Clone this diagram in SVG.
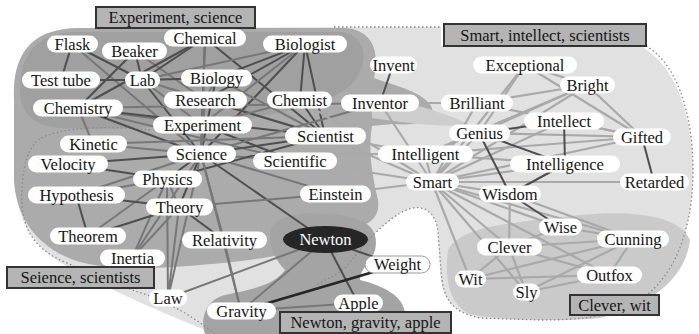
<svg xmlns="http://www.w3.org/2000/svg" width="699" height="334" viewBox="0 0 699 334" font-family="'Liberation Serif', 'DejaVu Serif', 'Times New Roman', serif">
<style>
text{font-family:'Liberation Serif','DejaVu Serif','Times New Roman',serif;font-size:16.5px;fill:#151515;text-anchor:middle}
.pill{fill:#fff}
.d{stroke:#4e4e4e;stroke-width:2;fill:none}
.m{stroke:#777;stroke-width:2;fill:none}
.l{stroke:#a9a9a9;stroke-width:2.2;fill:none}
.dot{fill:none;stroke:#8a8a8a;stroke-width:1.3;stroke-dasharray:1.5 2.5}
.lab{fill:#b4b4b4;stroke:#333;stroke-width:2}
</style>
<g id="regions">
<path d="M 14 100 C 12 50 35 28 80 28 L 441 27 L 441 46 L 640 46 C 672 62 693 110 693 170 C 693 240 668 290 625 308 C 590 320 540 322 480 318 C 452 312 441 298 440 270 L 438 232 C 436 212 424 206 413 208 C 395 212 375 232 360 250 L 345 270 L 410 334 L 215 334 C 160 312 110 290 70 268 C 40 252 20 230 16 190 Z" fill="#e1e1e1"/>
<path d="M 14 100 C 12 50 35 28 80 28 L 345 28 C 372 30 380 50 374 78 C 395 86 425 92 432 108 C 436 122 415 126 392 124 L 372 126 C 368 150 372 175 378 200 C 380 215 372 222 362 226 L 300 250 C 270 258 240 262 200 265 C 160 268 120 272 80 262 C 40 250 16 220 14 180 Z" fill="#ababab"/>
<path d="M 20 90 C 20 50 40 32 80 32 L 340 32 C 365 34 370 60 355 80 C 340 100 300 110 250 118 C 180 128 100 130 60 128 C 30 126 20 110 20 90 Z" fill="#a0a0a0"/>
<path d="M 270 235 C 270 215 300 212 330 214 C 365 216 380 228 375 250 C 372 262 360 268 360 280 C 380 285 405 295 405 315 L 405 334 L 205 334 C 200 320 205 300 225 295 C 250 290 275 285 285 270 C 275 260 270 248 270 235 Z" fill="#a4a4a4"/>
<path d="M 448 250 C 460 225 520 222 580 215 C 630 210 680 215 690 240 C 685 280 650 305 600 318 C 560 322 500 320 470 314 C 450 305 444 280 448 250 Z" fill="#cacaca"/>
<path d="M 372 96 C 400 100 440 110 470 125 C 440 128 400 122 372 118 Z" fill="#cdcdcd"/>
<path class="dot" d="M 334 27 L 441 27"/>
<path class="dot" d="M 646 46 C 675 62 693 110 693 170 C 693 240 668 290 625 308 C 600 318 575 320 540 320 L 480 318 C 452 312 443 300 441 270 L 438 232 C 436 212 424 206 413 208 C 395 212 375 232 360 250 L 345 268 C 335 276 325 280 315 285"/>
<path class="dot" d="M 150 130 C 110 126 60 126 38 140 C 24 152 21 180 22 205 C 24 235 40 252 67 263 C 95 276 120 286 150 296 C 175 306 195 318 215 334"/>
</g>
<g id="connectors">
<line class="d" x1="72" y1="44" x2="61" y2="80"/><line class="d" x1="72" y1="44" x2="142" y2="80"/><line class="m" x1="72" y1="44" x2="201" y2="154"/>
<line class="d" x1="135" y1="51" x2="142" y2="80"/><line class="d" x1="135" y1="51" x2="78" y2="108"/><line class="m" x1="135" y1="51" x2="205" y2="100"/>
<line class="d" x1="205" y1="38" x2="142" y2="80"/><line class="d" x1="205" y1="38" x2="78" y2="108"/><line class="d" x1="205" y1="38" x2="202" y2="125"/><line class="m" x1="205" y1="38" x2="201" y2="154"/><line class="d" x1="205" y1="38" x2="325" y2="136"/>
<line class="d" x1="305" y1="44" x2="216" y2="78"/><line class="d" x1="305" y1="44" x2="300" y2="100"/><line class="d" x1="305" y1="44" x2="325" y2="136"/><line class="d" x1="305" y1="44" x2="205" y2="100"/><line class="m" x1="305" y1="44" x2="142" y2="80"/><line class="d" x1="305" y1="44" x2="201" y2="154"/><line class="m" x1="305" y1="44" x2="202" y2="125"/>
<line class="d" x1="61" y1="80" x2="142" y2="80"/><line class="d" x1="142" y1="80" x2="216" y2="78"/><line class="m" x1="142" y1="80" x2="202" y2="125"/><line class="d" x1="142" y1="80" x2="201" y2="154"/><line class="m" x1="142" y1="80" x2="325" y2="136"/>
<line class="m" x1="216" y1="78" x2="205" y2="100"/><line class="d" x1="216" y1="78" x2="201" y2="154"/><line class="m" x1="216" y1="78" x2="325" y2="136"/>
<line class="d" x1="78" y1="108" x2="201" y2="154"/><line class="m" x1="78" y1="108" x2="202" y2="125"/><line class="d" x1="78" y1="108" x2="325" y2="136"/><line class="m" x1="78" y1="108" x2="93" y2="144"/><line class="m" x1="78" y1="108" x2="295" y2="161"/>
<line class="d" x1="205" y1="100" x2="325" y2="136"/><line class="m" x1="205" y1="100" x2="201" y2="154"/>
<line class="m" x1="202" y1="125" x2="201" y2="154"/><line class="d" x1="202" y1="125" x2="295" y2="161"/><line class="m" x1="202" y1="125" x2="300" y2="100"/>
<line class="d" x1="300" y1="100" x2="325" y2="136"/>
<line class="d" x1="201" y1="154" x2="325" y2="136"/><line class="m" x1="201" y1="154" x2="295" y2="161"/><line class="d" x1="201" y1="154" x2="167" y2="179"/><line class="d" x1="201" y1="154" x2="179" y2="207"/><line class="m" x1="201" y1="154" x2="93" y2="144"/><line class="d" x1="201" y1="154" x2="68" y2="164"/><line class="m" x1="201" y1="154" x2="76" y2="195"/><line class="m" x1="201" y1="154" x2="335" y2="194"/><line class="d" x1="201" y1="154" x2="325" y2="240"/><line class="m" x1="201" y1="154" x2="224" y2="240"/><line class="m" x1="201" y1="154" x2="168" y2="298"/>
<line class="d" x1="167" y1="179" x2="68" y2="164"/><line class="m" x1="167" y1="179" x2="179" y2="207"/><line class="m" x1="167" y1="179" x2="76" y2="195"/><line class="d" x1="167" y1="179" x2="325" y2="136"/><line class="m" x1="167" y1="179" x2="88" y2="236"/><line class="m" x1="167" y1="179" x2="132" y2="258"/>
<line class="d" x1="179" y1="207" x2="76" y2="195"/><line class="d" x1="179" y1="207" x2="88" y2="236"/><line class="d" x1="179" y1="207" x2="224" y2="240"/><line class="m" x1="179" y1="207" x2="168" y2="298"/><line class="m" x1="179" y1="207" x2="335" y2="194"/><line class="m" x1="179" y1="207" x2="132" y2="258"/>
<line class="d" x1="76" y1="195" x2="88" y2="236"/><line class="m" x1="93" y1="144" x2="325" y2="136"/><line class="m" x1="132" y1="258" x2="201" y2="154"/>
<line class="m" x1="168" y1="298" x2="325" y2="240"/><line class="m" x1="168" y1="298" x2="167" y2="179"/><line class="m" x1="224" y1="240" x2="241" y2="311"/><line class="m" x1="201" y1="154" x2="241" y2="311"/>
<line class="d" x1="325" y1="240" x2="397" y2="265"/><line class="d" x1="325" y1="240" x2="358" y2="303"/><line class="m" x1="325" y1="240" x2="241" y2="311"/>
<line stroke="#262626" stroke-width="2.6" x1="241" y1="311" x2="397" y2="265"/><line class="m" x1="241" y1="311" x2="358" y2="303"/>
<line class="d" x1="393" y1="65" x2="380" y2="103"/><line class="m" x1="380" y1="103" x2="201" y2="154"/><line class="m" x1="380" y1="103" x2="78" y2="108"/>
<line class="l" x1="432" y1="182" x2="425" y2="154"/><line class="l" x1="432" y1="182" x2="479" y2="133"/><line class="l" x1="432" y1="182" x2="477" y2="103"/><line class="l" x1="432" y1="182" x2="564" y2="121"/><line class="l" x1="432" y1="182" x2="565" y2="164"/><line class="l" x1="432" y1="182" x2="510" y2="194"/><line class="l" x1="432" y1="182" x2="654" y2="182"/><line class="l" x1="432" y1="182" x2="642" y2="137"/><line class="l" x1="432" y1="182" x2="587" y2="85"/><line class="l" x1="432" y1="182" x2="525" y2="65"/><line class="l" x1="432" y1="182" x2="560" y2="227"/><line class="l" x1="432" y1="182" x2="509" y2="247"/><line class="l" x1="432" y1="182" x2="470" y2="279"/><line class="l" x1="432" y1="182" x2="526" y2="292"/><line class="l" x1="432" y1="182" x2="633" y2="239"/><line class="l" x1="432" y1="182" x2="609" y2="275"/><line class="l" x1="432" y1="182" x2="325" y2="136"/><line class="l" x1="432" y1="182" x2="300" y2="100"/><line class="l" x1="432" y1="182" x2="335" y2="194"/><line class="l" x1="432" y1="182" x2="295" y2="161"/><line class="l" x1="432" y1="182" x2="380" y2="103"/>
<line class="l" x1="479" y1="133" x2="642" y2="137"/><line class="l" x1="479" y1="133" x2="587" y2="85"/><line class="l" x1="479" y1="133" x2="525" y2="65"/><line class="l" x1="564" y1="121" x2="642" y2="137"/><line class="l" x1="525" y1="65" x2="587" y2="85"/><line class="l" x1="525" y1="65" x2="642" y2="137"/><line class="l" x1="587" y1="85" x2="642" y2="137"/><line class="l" x1="587" y1="85" x2="477" y2="103"/><line class="l" x1="477" y1="103" x2="642" y2="137"/><line class="l" x1="425" y1="154" x2="479" y2="133"/><line class="l" x1="425" y1="154" x2="565" y2="164"/><line class="l" x1="425" y1="154" x2="642" y2="137"/><line class="l" x1="425" y1="154" x2="587" y2="85"/><line class="l" x1="425" y1="154" x2="325" y2="136"/><line class="l" x1="425" y1="154" x2="201" y2="154"/><line class="l" x1="380" y1="103" x2="477" y2="103"/>
<line class="l" x1="560" y1="227" x2="633" y2="239"/><line class="l" x1="560" y1="227" x2="509" y2="247"/><line class="l" x1="509" y1="247" x2="633" y2="239"/><line class="l" x1="509" y1="247" x2="470" y2="279"/><line class="l" x1="509" y1="247" x2="526" y2="292"/><line class="l" x1="509" y1="247" x2="609" y2="275"/><line class="l" x1="470" y1="279" x2="609" y2="275"/><line class="l" x1="470" y1="279" x2="633" y2="239"/><line class="l" x1="526" y1="292" x2="609" y2="275"/><line class="l" x1="526" y1="292" x2="633" y2="239"/><line class="l" x1="633" y1="239" x2="609" y2="275"/><line class="l" x1="510" y1="194" x2="633" y2="239"/><line class="l" x1="510" y1="194" x2="509" y2="247"/>
<line class="d" x1="479" y1="133" x2="564" y2="121"/><line class="d" x1="479" y1="133" x2="510" y2="194"/><line class="d" x1="479" y1="133" x2="565" y2="164"/><line class="d" x1="564" y1="121" x2="565" y2="164"/><line class="d" x1="565" y1="164" x2="510" y2="194"/><line class="d" x1="510" y1="194" x2="560" y2="227"/><line class="d" x1="642" y1="137" x2="654" y2="182"/>
</g>
<g id="n-flask"><rect class="pill" x="47" y="35.5" width="51" height="17" rx="8.5"/><text x="72.5" y="49.5">Flask</text></g>
<g id="n-beaker"><rect class="pill" x="102" y="42.5" width="65" height="17" rx="8.5"/><text x="134.5" y="56.5">Beaker</text></g>
<g id="n-chemical"><rect class="pill" x="164" y="29.5" width="82" height="17" rx="8.5"/><text x="205" y="43.5">Chemical</text></g>
<g id="n-biologist"><rect class="pill" x="263" y="35.5" width="84" height="17" rx="8.5"/><text x="305" y="49.5">Biologist</text></g>
<g id="n-testtube"><rect class="pill" x="22" y="71.5" width="78" height="17" rx="8.5"/><text x="61" y="85.5">Test tube</text></g>
<g id="n-lab"><rect class="pill" x="125" y="71.5" width="35" height="17" rx="8.5"/><text x="142.5" y="85.5">Lab</text></g>
<g id="n-biology"><rect class="pill" x="181" y="69.5" width="71" height="17" rx="8.5"/><text x="216.5" y="83.5">Biology</text></g>
<g id="n-research"><rect class="pill" x="164" y="91.5" width="83" height="17" rx="8.5"/><text x="205.5" y="105.5">Research</text></g>
<g id="n-chemist"><rect class="pill" x="267" y="91.5" width="65" height="17" rx="8.5"/><text x="299.5" y="105.5">Chemist</text></g>
<g id="n-invent"><rect class="pill" x="370" y="56.5" width="47" height="17" rx="8.5"/><text x="393.5" y="70.5">Invent</text></g>
<g id="n-inventor"><rect class="pill" x="341" y="94.5" width="78" height="17" rx="8.5"/><text x="380" y="108.5">Inventor</text></g>
<g id="n-chemistry"><rect class="pill" x="33" y="99.5" width="90" height="17" rx="8.5"/><text x="78" y="113.5">Chemistry</text></g>
<g id="n-experiment"><rect class="pill" x="153" y="116.5" width="99" height="17" rx="8.5"/><text x="202.5" y="130.5">Experiment</text></g>
<g id="n-scientist"><rect class="pill" x="285" y="127.5" width="81" height="17" rx="8.5"/><text x="325.5" y="141.5">Scientist</text></g>
<g id="n-kinetic"><rect class="pill" x="60" y="135.5" width="67" height="17" rx="8.5"/><text x="93.5" y="149.5">Kinetic</text></g>
<g id="n-science"><rect class="pill" x="167" y="145.5" width="69" height="17" rx="8.5"/><text x="201.5" y="159.5">Science</text></g>
<g id="n-scientific"><rect class="pill" x="253" y="152.5" width="84" height="17" rx="8.5"/><text x="295" y="166.5">Scientific</text></g>
<g id="n-velocity"><rect class="pill" x="28" y="155.5" width="80" height="17" rx="8.5"/><text x="68" y="169.5">Velocity</text></g>
<g id="n-physics"><rect class="pill" x="133" y="170.5" width="69" height="17" rx="8.5"/><text x="167.5" y="184.5">Physics</text></g>
<g id="n-hypothesis"><rect class="pill" x="28" y="186.5" width="97" height="17" rx="8.5"/><text x="76.5" y="200.5">Hypothesis</text></g>
<g id="n-theory"><rect class="pill" x="146" y="198.5" width="67" height="17" rx="8.5"/><text x="179.5" y="212.5">Theory</text></g>
<g id="n-einstein"><rect class="pill" x="300" y="185.5" width="71" height="17" rx="8.5"/><text x="335.5" y="199.5">Einstein</text></g>
<g id="n-theorem"><rect class="pill" x="50" y="227.5" width="76" height="17" rx="8.5"/><text x="88" y="241.5">Theorem</text></g>
<g id="n-relativity"><rect class="pill" x="182" y="231.5" width="85" height="17" rx="8.5"/><text x="224.5" y="245.5">Relativity</text></g>
<g id="n-newton"><ellipse cx="325.5" cy="239.5" rx="42.5" ry="13.5" fill="#262626"/><text x="325.5" y="245" style="fill:#fff">Newton</text></g>
<g id="n-inertia"><rect class="pill" x="100" y="249.5" width="65" height="17" rx="8.5"/><text x="132.5" y="263.5">Inertia</text></g>
<g id="n-weight"><rect class="pill" x="365" y="256" width="65" height="17" rx="8.5" stroke="#9a9a9a" stroke-width="1"/><text x="397.5" y="270">Weight</text></g>
<g id="n-law"><rect class="pill" x="149" y="289.5" width="38" height="17" rx="8.5" fill="#ececec"/><text x="168" y="303.5">Law</text></g>
<g id="n-gravity"><rect class="pill" x="207" y="302.5" width="69" height="17" rx="8.5"/><text x="241.5" y="316.5">Gravity</text></g>
<g id="n-apple"><rect class="pill" x="334" y="294.5" width="49" height="17" rx="8.5"/><text x="358.5" y="308.5">Apple</text></g>
<g id="n-exceptional"><rect class="pill" x="473" y="56.5" width="104" height="17" rx="8.5"/><text x="525" y="70.5">Exceptional</text></g>
<g id="n-bright"><rect class="pill" x="560" y="76.5" width="55" height="17" rx="8.5"/><text x="587.5" y="90.5">Bright</text></g>
<g id="n-brilliant"><rect class="pill" x="441" y="94.5" width="72" height="17" rx="8.5"/><text x="477" y="108.5">Brilliant</text></g>
<g id="n-intellect"><rect class="pill" x="524" y="112.5" width="80" height="17" rx="8.5"/><text x="564" y="126.5">Intellect</text></g>
<g id="n-genius"><rect class="pill" x="449" y="124.5" width="61" height="17" rx="8.5"/><text x="479.5" y="138.5">Genius</text></g>
<g id="n-gifted"><rect class="pill" x="613" y="128.5" width="58" height="17" rx="8.5"/><text x="642" y="142.5">Gifted</text></g>
<g id="n-intelligent"><rect class="pill" x="378" y="145.5" width="95" height="17" rx="8.5"/><text x="425.5" y="159.5">Intelligent</text></g>
<g id="n-intelligence"><rect class="pill" x="510" y="155.5" width="110" height="17" rx="8.5"/><text x="565" y="169.5">Intelligence</text></g>
<g id="n-smart"><rect class="pill" x="406" y="173.5" width="53" height="17" rx="8.5"/><text x="432.5" y="187.5">Smart</text></g>
<g id="n-retarded"><rect class="pill" x="620" y="173.5" width="69" height="17" rx="8.5"/><text x="654.5" y="187.5">Retarded</text></g>
<g id="n-wisdom"><rect class="pill" x="479" y="185.5" width="62" height="17" rx="8.5"/><text x="510" y="199.5">Wisdom</text></g>
<g id="n-wise"><rect class="pill" x="539" y="218.5" width="43" height="17" rx="8.5"/><text x="560.5" y="232.5">Wise</text></g>
<g id="n-cunning"><rect class="pill" x="597" y="230.5" width="72" height="17" rx="8.5"/><text x="633" y="244.5">Cunning</text></g>
<g id="n-clever"><rect class="pill" x="477" y="238.5" width="65" height="17" rx="8.5"/><text x="509.5" y="252.5">Clever</text></g>
<g id="n-wit"><rect class="pill" x="455" y="270.5" width="31" height="17" rx="8.5"/><text x="470.5" y="284.5">Wit</text></g>
<g id="n-outfox"><rect class="pill" x="577" y="266.5" width="65" height="17" rx="8.5"/><text x="609.5" y="280.5">Outfox</text></g>
<g id="n-sly"><rect class="pill" x="513" y="283.5" width="27" height="17" rx="8.5"/><text x="526.5" y="297.5">Sly</text></g>
<g id="label-experiment"><rect class="lab" x="96" y="7" width="159" height="21"/><text x="175.5" y="23">Experiment, science</text></g>
<g id="label-smart"><rect class="lab" x="444" y="24" width="202" height="22"/><text x="545" y="40.5">Smart, intellect, scientists</text></g>
<g id="label-science"><rect class="lab" x="7" y="267" width="147" height="21"/><text x="80.5" y="283">Seience, scientists</text></g>
<g id="label-clever"><rect class="lab" x="570" y="295" width="89" height="20"/><text x="614.5" y="310.5">Clever, wit</text></g>
<g id="label-newton"><rect class="lab" x="280" y="312" width="171" height="21"/><text x="365.5" y="328">Newton, gravity, apple</text></g>
</svg>
